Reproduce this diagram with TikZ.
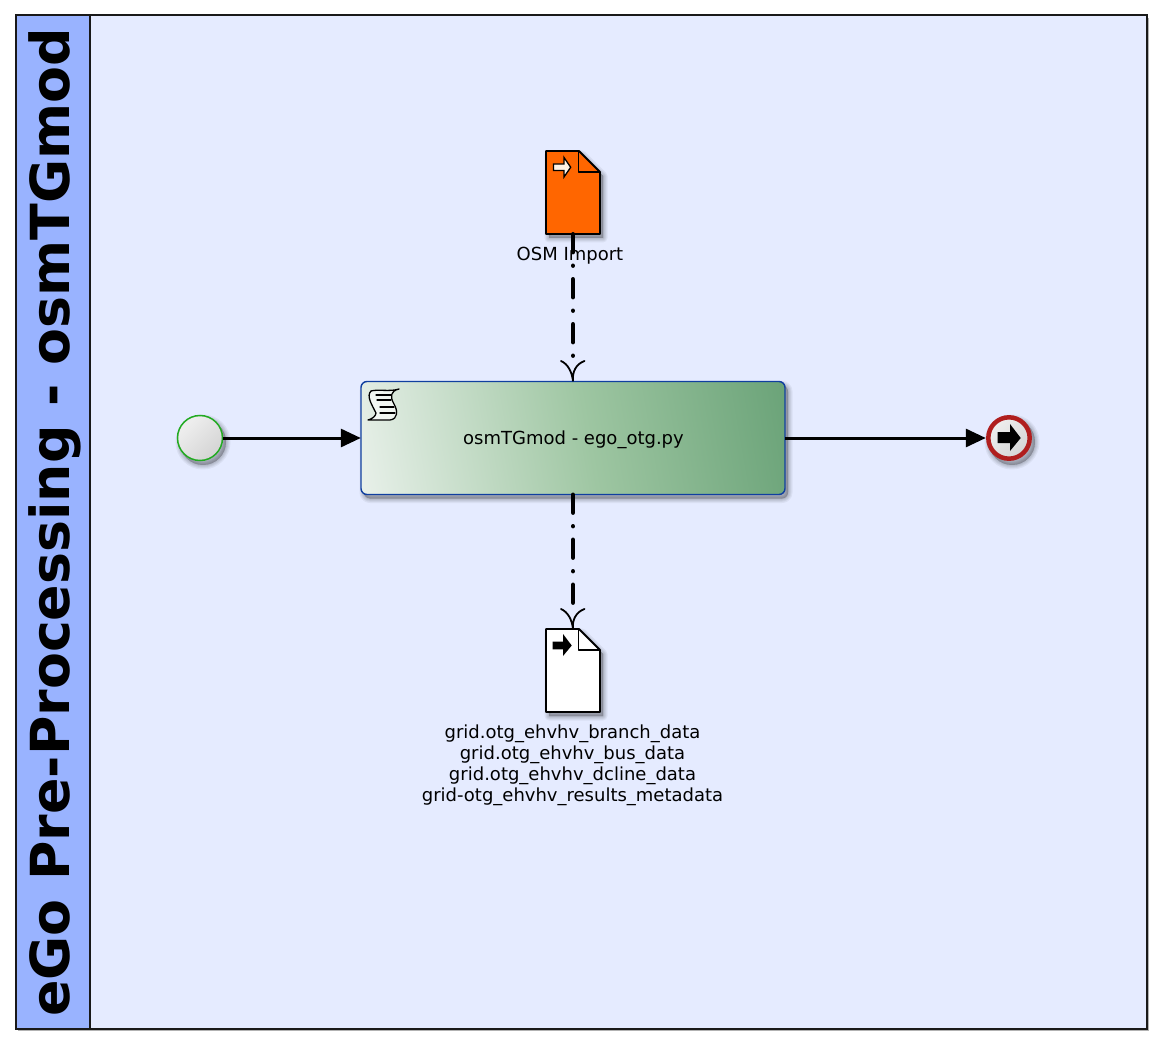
\documentclass[tikz,border=0pt]{standalone}
\usepackage{fontspec}
\setmainfont{DejaVu Sans}
\usetikzlibrary{arrows.meta}
\definecolor{poolbody}{HTML}{E5EBFF}
\definecolor{poolhead}{HTML}{99B3FF}
\definecolor{taskedge}{HTML}{103F9F}
\definecolor{taskgreen}{HTML}{69A277}
\definecolor{taskmid}{HTML}{9EC6A2}
\definecolor{taskpale}{HTML}{F4F7F5}
\definecolor{startedge}{HTML}{22AA22}
\definecolor{endedge}{HTML}{B01E1E}
\definecolor{docorange}{HTML}{FF6600}
\pgfdeclarehorizontalshading{taskshade}{100bp}{
  color(0bp)=(taskpale); color(16bp)=(taskpale); color(52bp)=(taskmid); color(80bp)=(taskgreen); color(100bp)=(taskgreen)}
\pgfdeclarehorizontalshading{eventshade}{100bp}{
  color(0bp)=(black!7); color(30bp)=(black!7); color(70bp)=(black!16); color(100bp)=(black!16)}
\tikzset{
  softshadow/.style={draw=black,fill=black,opacity=.05,line join=round},
  seqflow/.style={line width=3pt,-{Triangle[length=20pt,width=18pt]}},
  assoc/.style={line width=4.4pt,line cap=round,dash pattern=on 18pt off 13.5pt on .01pt off 13.5pt},
  assoctip/.style={line width=1.8pt,line cap=round},
  docbody/.style={draw=black,line width=1.8pt,line join=round},
  label/.style={font=\fontsize{18}{21}\selectfont,align=center,text=black,inner sep=0pt},
  taskbox/.style={draw=taskedge,line width=1.4pt,rounded corners=6pt},
  iconline/.style={line width=1.3pt,line join=round,line cap=round}
}
\newcommand{\shadowed}[1]{%
  \foreach \w in {9,6.5,4.5,2.5,0.5}{\path[softshadow,line width=\w pt,shift={(3,4)}] #1;}}
\begin{document}
\begin{tikzpicture}[x=1pt,y=-1pt]
\useasboundingbox (0,0) rectangle (1164,1056);
% pool
\fill[black!30] (18,18) rectangle (1149,1031);
\fill[poolbody] (90,15) rectangle (1147,1029);
\fill[poolhead] (16,15) rectangle (90,1029);
\draw[line width=1.8pt,black!90] (16,15) rectangle (1147,1029);
\draw[line width=1.8pt,black!90] (90,15) -- (90,1029);
\node[rotate=90,font=\fontsize{53.8}{60}\selectfont\bfseries,inner sep=0pt] (title) at (55,522.5) {eGo Pre-Processing - osmTGmod};
% start
\shadowed{(200,438) circle (23)}
\path[shade,shading=eventshade,shading angle=-45] (200,438) circle (23);
\draw[draw=startedge,line width=1.5pt] (200,438) circle (22.5);
\node[circle,minimum size=46pt,inner sep=0pt] (start) at (200,438) {};
% end
\shadowed{(1009,438) circle (23)}
\path[shade,shading=eventshade,shading angle=-45] (1009,438) circle (22);
\draw[draw=endedge,line width=4.5pt] (1009,438) circle (20.7);
\node[circle,minimum size=46pt,inner sep=0pt] (finish) at (1009,438) {};
\fill (997.7,432) -- (1010,432) -- (1010,424) -- (1020.7,438) -- (1010,451) -- (1010,443) -- (997.7,443) -- cycle;
% task
\shadowed{[rounded corners=6pt] (361,381.5) rectangle (785,494.5)}
\path[rounded corners=6pt,shade,shading=taskshade,shading angle=10] (361,381.5) rectangle (785,494.5);
\draw[taskbox] (361,381.5) rectangle (785,494.5);
\node[minimum width=424pt,minimum height=113pt,inner sep=0pt] (task) at (573,438) {};
\node[label] (tasklabel) at (573.5,439.5) {osmTGmod - ego\_otg.py};
% script icon
\draw[iconline,fill=white,fill opacity=.6] (371,391) .. controls (378,389) and (390,392) .. (399,389)
  .. controls (390,391) and (390,397) .. (394,404)
  .. controls (398,411) and (398,419) .. (390,420)
  -- (368,420) .. controls (372,419) and (376,416) .. (376,413)
  .. controls (372,405) and (366,396) .. (371,391) -- cycle;
\draw[iconline] (376,395) -- (391,395);
\draw[iconline] (377,400) -- (391,400);
\draw[iconline] (380,407) -- (394,407);
\draw[iconline] (380,413) -- (395,413);
% input document
\shadowed{(546,151) -- (579,151) -- (600,172) -- (600,234) -- (546,234) -- cycle}
\draw[docbody,fill=docorange] (546,151) -- (579,151) -- (600,172) -- (600,234) -- (546,234) -- cycle;
\draw[docbody] (578.5,151) -- (578.5,172) -- (600,172);
\node[minimum width=54pt,minimum height=83pt,inner sep=0pt] (osmdoc) at (573,192.5) {};
\draw[fill=white!90!orange,line width=1.3pt,line join=miter] (553.5,164) -- (564,164) -- (564,157.5) -- (570.7,167.3) -- (564,177) -- (564,170.6) -- (553.5,170.6) -- cycle;
\node[label] (osmlabel) at (570,255.5) {OSM Import};
% output document
\shadowed{(546,629) -- (579,629) -- (600,650) -- (600,712) -- (546,712) -- cycle}
\draw[docbody,fill=white] (546,629) -- (579,629) -- (600,650) -- (600,712) -- (546,712) -- cycle;
\draw[docbody] (578.5,629) -- (578.5,650) -- (600,650);
\node[minimum width=54pt,minimum height=83pt,inner sep=0pt] (outdoc) at (573,670.5) {};
\fill (552.7,641.7) -- (563,641.7) -- (563,634) -- (571.7,645.5) -- (563,656) -- (563,649.3) -- (552.7,649.3) -- cycle;
\node[label] (outlabel) at (572.5,765) {grid.otg\_ehvhv\_branch\_data\\grid.otg\_ehvhv\_bus\_data\\grid.otg\_ehvhv\_dcline\_data\\grid-otg\_ehvhv\_results\_metadata};
% sequence flows
\draw[seqflow] (start.east) -- (task.west);
\draw[seqflow] (task.east) -- (finish.west);
% associations
\draw[assoc,shorten >=21pt] (osmdoc.south) -- (task.north);
\draw[assoc,shorten >=14pt] (task.south) -- (outdoc.north);
\draw[assoctip] (561,361) .. controls (568,364) and (572,372) .. (task.north) .. controls (572,372) and (576,364) .. (584.5,361);
\draw[assoctip] (561,609) .. controls (568,612) and (572,620) .. (outdoc.north) .. controls (572,620) and (576,612) .. (584.5,609);
\end{tikzpicture}
\end{document}
